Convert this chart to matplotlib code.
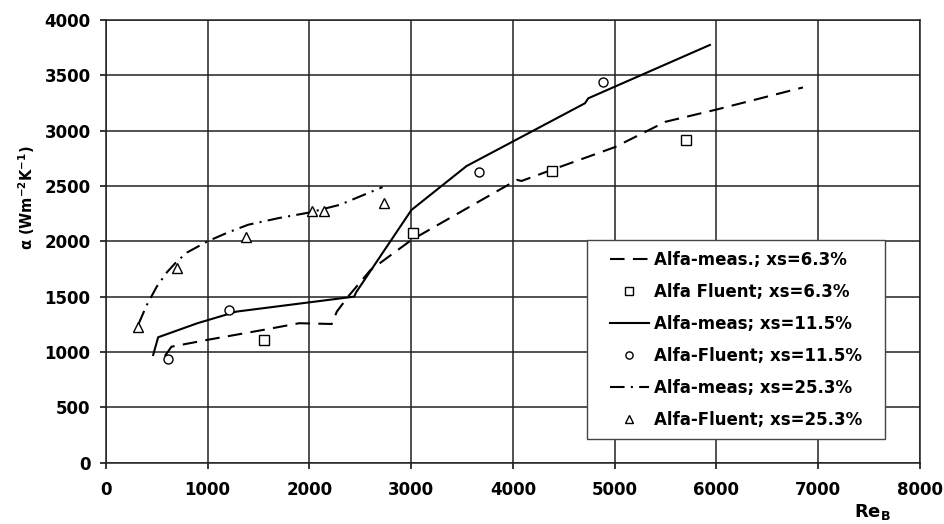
import matplotlib
matplotlib.use("Agg")
import matplotlib.pyplot as plt
from matplotlib.patches import Rectangle

plt.rcParams['font.family'] = ['DejaVu Sans']
plt.rcParams['font.weight'] = 'bold'
plt.rcParams['mathtext.default'] = 'bf'

# measured curves
re_63 = [580, 645, 1000, 1550, 1900, 2220, 2270, 2380, 2600, 3000, 3380, 4040, 4085, 4380, 5000, 5500, 6000, 6850]
a_63 = [964, 1048, 1110, 1200, 1260, 1253, 1365, 1500, 1740, 2010, 2210, 2555, 2545, 2645, 2850, 3080, 3190, 3390]

re_115 = [465, 514, 900, 1284, 2440, 2460, 3003, 3545, 4708, 4741, 5936]
a_115 = [973, 1133, 1260, 1365, 1500, 1540, 2283, 2680, 3247, 3292, 3774]

re_253 = [320, 400, 500, 600, 700, 800, 1000, 1200, 1400, 1700, 2000, 2300, 2720]
a_253 = [1250, 1420, 1590, 1720, 1820, 1900, 2000, 2080, 2150, 2210, 2260, 2330, 2490]

# Fluent points
fre_63 = [1556, 3014, 4380, 5697]
fa_63 = [1109, 2073, 2638, 2916]
fre_115 = [606, 1212, 3666, 4888]
fa_115 = [934, 1380, 2629, 3443]
fre_253 = [318, 704, 1376, 2028, 2146, 2732]
fa_253 = [1229, 1756, 2042, 2277, 2277, 2344]

fig = plt.figure(figsize=(9.45, 5.24), dpi=100)
ax = fig.add_axes([0.112, 0.117, 0.8615, 0.845])

ax.plot(re_63, a_63, color='black', lw=1.5, linestyle=(0, (7, 4)), label='Alfa-meas.; xs=6.3%')
ax.plot(fre_63, fa_63, 's', mfc='white', mec='black', ms=6.5, mew=1.0, linestyle='none', label='Alfa Fluent; xs=6.3%')
ax.plot(re_115, a_115, color='black', lw=1.5, label='Alfa-meas; xs=11.5%')
ax.plot(fre_115, fa_115, 'o', mfc='white', mec='black', ms=6.5, mew=1.0, linestyle='none', label='Alfa-Fluent; xs=11.5%')
ax.plot(re_253, a_253, color='black', lw=1.5, linestyle=(0, (7, 3, 1, 3)), label='Alfa-meas; xs=25.3%')
ax.plot(fre_253, fa_253, '^', mfc='white', mec='black', ms=7, mew=1.0, linestyle='none', label='Alfa-Fluent; xs=25.3%')

ax.set_xlim(0, 8000)
ax.set_ylim(0, 4000)
ax.set_xticks(range(0, 8001, 1000))
ax.set_yticks(range(0, 4001, 500))
ax.grid(True, color='#222222', linewidth=1.1)
ax.set_axisbelow(True)
for sp in ax.spines.values():
    sp.set_color('#222222')
    sp.set_linewidth(1.1)
ax.tick_params(labelsize=12, direction='out', length=4.5, width=1.1)
ax.tick_params(axis='x', pad=9)
ax.tick_params(axis='y', pad=6.5)
for lab in ax.get_xticklabels() + ax.get_yticklabels():
    lab.set_fontweight('bold')

ax.set_ylabel(r'α (Wm$^{-2}$K$^{-1}$)', fontsize=10.5, fontweight='bold')
ax.yaxis.set_label_coords(-0.085, 0.598)
fig.text(0.923, 0.013, r'Re$_{B}$', fontsize=13, fontweight='bold', ha='center', va='baseline')

# legend frame drawn separately (wider side padding than top/bottom)
ax.add_patch(Rectangle((0.591, 0.0535), 0.366, 0.4495, transform=ax.transAxes,
                       facecolor='white', edgecolor='#444444', linewidth=1.0, zorder=4))
leg = ax.legend(loc='center', bbox_to_anchor=(0.774, 0.278), borderaxespad=0,
                frameon=False, handlelength=2.3, handletextpad=0.3, labelspacing=0.84,
                borderpad=0.2, markerscale=0.8, prop={'weight': 'bold', 'size': 12})
leg.set_zorder(5)

plt.savefig('out.png', dpi=100)
